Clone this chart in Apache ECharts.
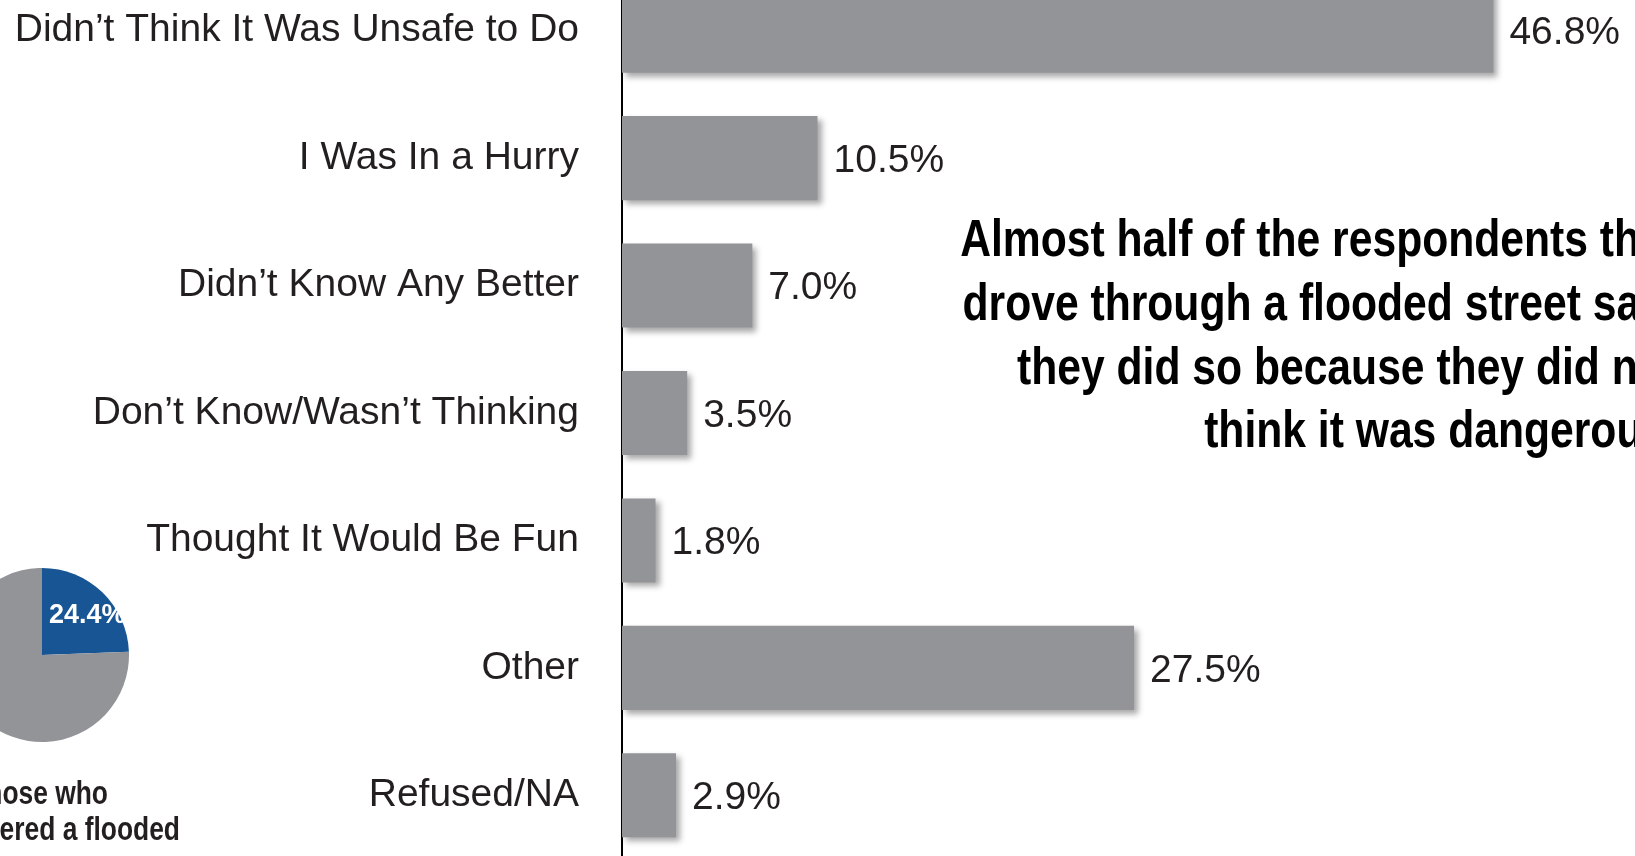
<!DOCTYPE html>
<html>
<head>
<meta charset="utf-8">
<script src="https://cdn.jsdelivr.net/npm/echarts@6/dist/echarts.min.js"></script>
<style>
html,body{margin:0;padding:0;background:#fff;}
#chart{width:1635px;height:856px;}
</style>
</head>
<body>
<div id="chart"></div>
<script>
var categories = [
  "Didn\u2019t Think It Was Unsafe to Do",
  "I Was In a Hurry",
  "Didn\u2019t Know Any Better",
  "Don\u2019t Know/Wasn\u2019t Thinking",
  "Thought It Would Be Fun",
  "Other",
  "Refused/NA"
];
var reasonValues = [46.8, 10.5, 7.0, 3.5, 1.8, 27.5, 2.9];
var pieNames = ["Entered a flooded street", "Did not"];
var pieValues = [24.4, 75.6];
var annotationLines = [
  "Almost half of the respondents that",
  "drove through a flooded street said",
  "they did so because they did not",
  "think it was dangerous."
];
var pieCaptionLines = ["Of those who", "encountered a flooded"];

var FONT = "'Liberation Sans Narrow', 'Liberation Sans', Arial, sans-serif";
var GRAY = "#939498";
var BLUE = "#175594";
var INK = "#231f20";

var chart = echarts.init(document.getElementById('chart'), null, {renderer: 'canvas'});
chart.setOption({
  backgroundColor: '#ffffff',
  animation: false,
  textStyle: {fontFamily: FONT},
  grid: {left: 622, top: -33, width: 931, height: 892, containLabel: false, outerBoundsMode: 'none'},
  xAxis: {
    type: 'value', min: 0, max: 50, show: false,
    splitLine: {show: false}
  },
  yAxis: {
    type: 'category', data: categories, inverse: true,
    axisLine: {show: true, lineStyle: {color: '#000', width: 2}},
    axisTick: {show: false},
    axisLabel: {fontSize: 39, color: INK, margin: 43, fontFamily: FONT, lineHeight: 46, padding: [6, 0, 0, 0]}
  },
  series: [
    {
      type: 'bar',
      data: reasonValues,
      barCategoryGap: '34%',
      itemStyle: {
        color: GRAY,
        shadowBlur: 6, shadowOffsetX: 4, shadowOffsetY: 4,
        shadowColor: 'rgba(0,0,0,0.35)'
      },
      label: {
        show: true, position: 'right', distance: 16, offset: [0, 3],
        fontSize: 39, color: INK, fontFamily: FONT,
        formatter: function (p) { return p.value.toFixed(1) + '%'; }
      },
      z: 2
    },
    {
      type: 'pie',
      center: [42, 655],
      radius: 87,
      startAngle: 90,
      clockwise: true,
      silent: true,
      data: pieNames.map(function (n, i) {
        return {
          name: n, value: pieValues[i],
          itemStyle: {color: i === 0 ? BLUE : GRAY},
          label: {show: i === 0}
        };
      }),
      label: {
        position: 'inside', color: '#fff', fontSize: 27, fontWeight: 'bold',
        fontFamily: FONT, offset: [13, -6],
        formatter: function (p) { return p.value.toFixed(1) + '%'; }
      },
      labelLine: {show: false}
    }
  ],
  graphic: [
    {
      type: 'text', x: 1678, y: 210, scaleX: 0.82,
      style: {
        text: annotationLines.join('\n'),
        textAlign: 'right', textVerticalAlign: 'top',
        font: 'bold 52px ' + FONT, lineHeight: 63.7, fill: '#000'
      }
    },
    {
      type: 'text', x: 108, y: 795, scaleX: 0.8,
      style: {
        text: pieCaptionLines[0],
        textAlign: 'right', textVerticalAlign: 'middle',
        font: 'bold 33px ' + FONT, fill: INK
      }
    },
    {
      type: 'text', x: 180, y: 831, scaleX: 0.8,
      style: {
        text: pieCaptionLines[1],
        textAlign: 'right', textVerticalAlign: 'middle',
        font: 'bold 33px ' + FONT, fill: INK
      }
    }
  ]
});
</script>
</body>
</html>
